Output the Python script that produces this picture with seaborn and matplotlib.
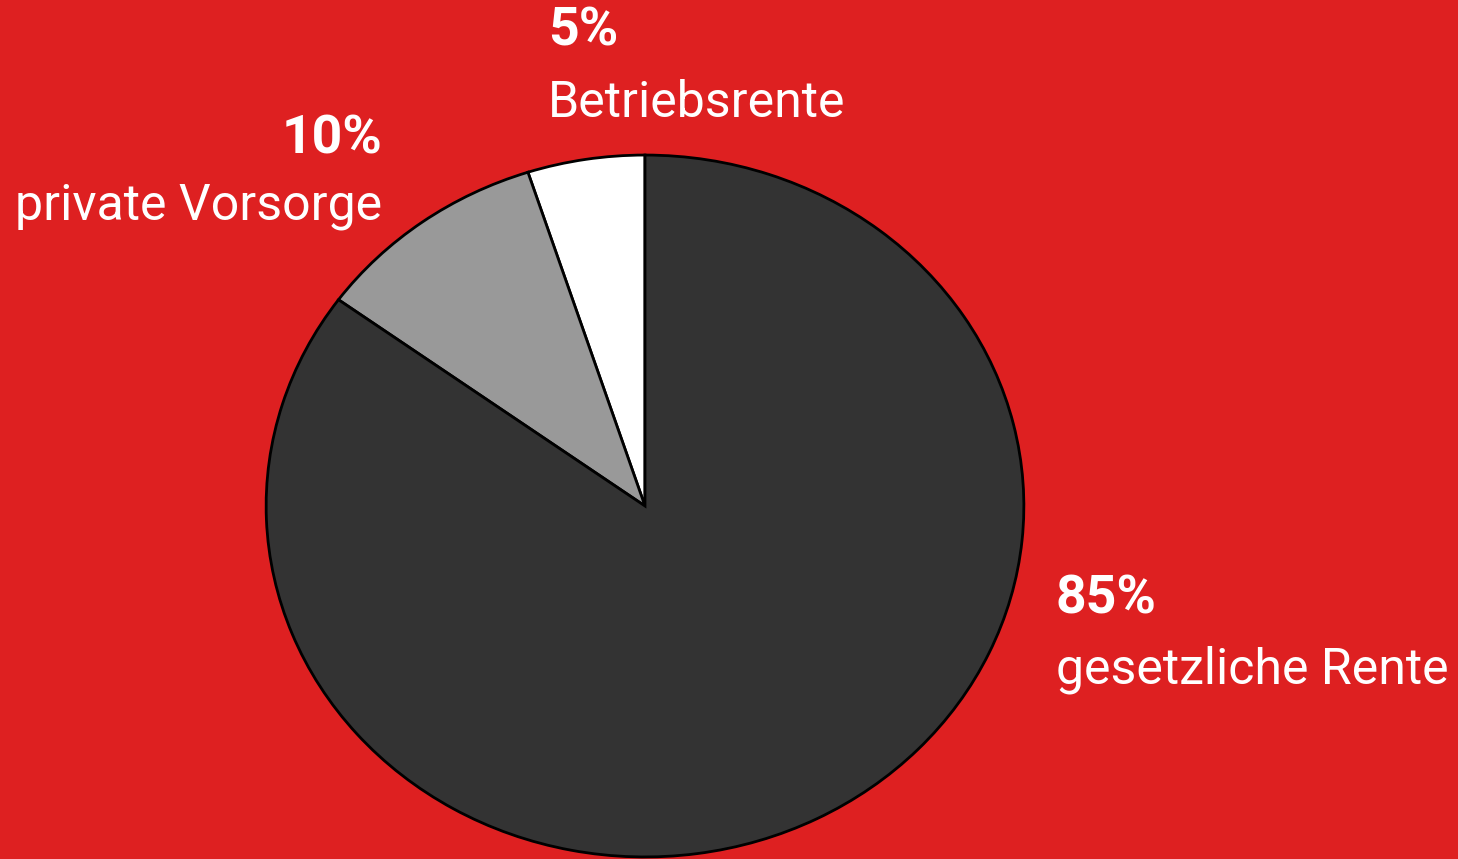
import matplotlib
matplotlib.use("Agg")
import matplotlib.pyplot as plt
import seaborn as sns

# Daten: Anteile der Altersvorsorge
labels = ["Betriebsrente", "private Vorsorge", "gesetzliche Rente"]
values = [5, 10, 85]
pct_labels = ["5%", "10%", "85%"]
colors = ["#ffffff", "#999999", "#333333"]
bg_red = "#de2021"

sns.set_style("white")
plt.rcParams['font.family'] = ['Roboto', 'DejaVu Sans']

W, H = 1458, 859
fig = plt.figure(figsize=(W / 100, H / 100), dpi=100, facecolor=bg_red)

# Achse so platzieren, dass der Kreis (leicht elliptisch) wie im Original liegt
left, right, top, bottom = 265, 1025, 154, 858
ax = fig.add_axes([left / W, 1 - bottom / H, (right - left) / W, (bottom - top) / H])
ax.set_facecolor(bg_red)

ax.pie(values, colors=colors, startangle=90, counterclock=True,
       wedgeprops=dict(edgecolor="black", linewidth=2))
ax.set_aspect('auto')
ax.set_xlim(-1.003, 1.003)
ax.set_ylim(-1.003, 1.003)
ax.axis('off')

# Beschriftungen (Pixelkoordinaten -> Figurkoordinaten)
def px_text(x, y, s, ha, bold=False):
    fig.text(x / W, 1 - y / H, s, ha=ha, va='baseline', color='white',
             fontsize=38.5 if bold else 36,
             fontweight='bold' if bold else 'normal')

px_text(548, 46, pct_labels[0], 'left', bold=True)
px_text(548, 117, labels[0], 'left')
px_text(382, 153, pct_labels[1], 'right', bold=True)
px_text(382, 220, labels[1], 'right')
px_text(1056, 614, pct_labels[2], 'left', bold=True)
px_text(1056, 683, labels[2], 'left')

fig.savefig("out.png", dpi=100, facecolor=bg_red)
